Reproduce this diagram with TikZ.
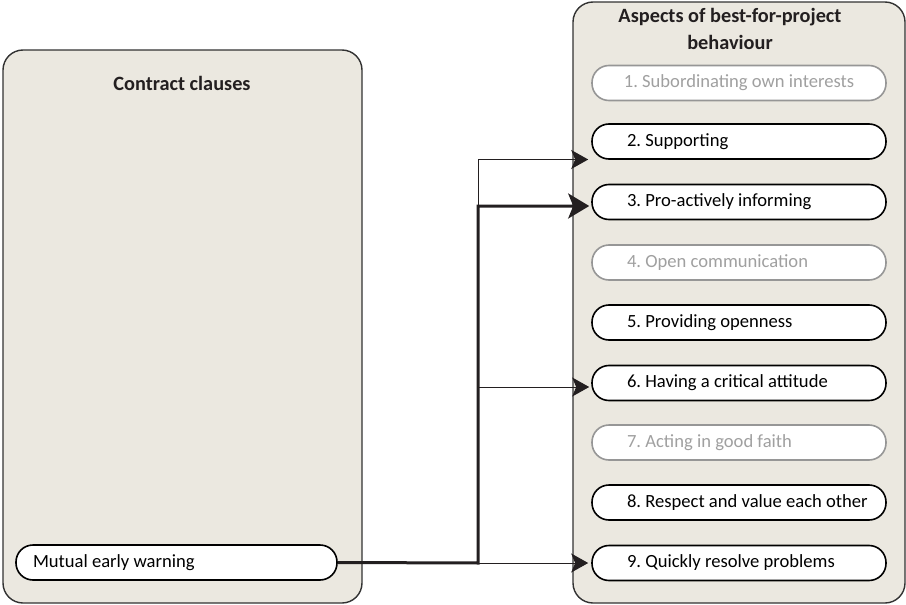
\documentclass[tikz,border=0pt]{standalone}
\usepackage{fontspec}
\setmainfont{Carlito}
\usetikzlibrary{arrows.meta,calc}
\frenchspacing

\definecolor{panelfill}{RGB}{235,232,224}
\definecolor{paneledge}{RGB}{50,50,50}
\definecolor{inkdark}{RGB}{35,31,32}
\definecolor{mutedtext}{RGB}{160,160,160}
\definecolor{mutededge}{RGB}{150,150,150}

\newcommand{\pilltext}[2]{\makebox[#1][l]{#2}}

\tikzset{
  panel/.style={draw=paneledge, line width=1.4pt, fill=panelfill, rounded corners=20pt},
  pill/.style={draw=black, line width=1.6pt, fill=white, rounded corners=17pt,
    minimum height=35pt, inner ysep=0pt, text=black,
    font=\fontsize{18.6}{22}\selectfont},
  rightpill/.style={pill, inner xsep=35pt, minimum width=294pt},
  mutedpill/.style={rightpill, draw=mutededge, text=mutedtext},
  paneltitle/.style={font=\bfseries\fontsize{20.3}{27}\selectfont, text=inkdark, align=center},
  thinline/.style={draw=inkdark, line width=1pt, -{Stealth[length=17pt,width=19pt,inset=4pt]}},
  thickline/.style={draw=inkdark, line width=3pt, -{Stealth[length=21pt,width=25pt,inset=5pt]}},
  thinseg/.style={draw=inkdark, line width=1pt},
}

\begin{document}
\begin{tikzpicture}[x=1pt,y=-1pt]
  \useasboundingbox (0,0) rectangle (906,605);

  % the two panels
  \path[panel] (3,50) rectangle (362,603);
  \path[panel] (573,2) rectangle (905,603);

  \node[paneltitle] (lefttitle) at (182,83) {Contract clauses};
  \node[paneltitle] (righttitle) at (730,28.5) {Aspects of best-for-project\\behaviour};

  % contract clause
  \node[pill, inner xsep=17pt] (m) at (176.5,562.5)
    {\pilltext{287pt}{Mutual early warning}};

  % aspects of behaviour
  \node[mutedpill, inner xsep=0pt] (a1) at (739,83) {\makebox[294pt][c]{1. Subordinating own interests}};
  \node[rightpill] (a2) at (739,141.5) {\pilltext{224pt}{2. Supporting}};
  \node[rightpill] (a3) at (739,202) {\pilltext{224pt}{3. Pro-actively informing}};
  \node[mutedpill] (a4) at (739,262.5) {\pilltext{224pt}{4. Open communication}};
  \node[rightpill] (a5) at (739,322.5) {\pilltext{224pt}{5. Providing openness}};
  \node[rightpill] (a6) at (739,383) {\pilltext{224pt}{6. Having a critical attitude}};
  \node[mutedpill] (a7) at (739,442.5) {\pilltext{224pt}{7. Acting in good faith}};
  \node[rightpill] (a8) at (739,502.5) {\pilltext{224pt}{8. Respect and value each other}};
  \node[rightpill] (a9) at (739,563) {\pilltext{224pt}{9. Quickly resolve problems}};

  % arrow ends, just short of the pills
  \coordinate (t2) at ([xshift=-3pt,yshift=-18pt]a2.west);
  \coordinate (t3) at ([xshift=-2pt,yshift=-4pt]a3.west);
  \coordinate (t6) at ([xshift=-2pt,yshift=-4pt]a6.west);
  \coordinate (t9) at ([xshift=-3pt]a9.west);
  \coordinate (j) at (478,563);

  % connectors
  \draw[thinseg] (j |- t3) -- (j |- t2);
  \draw[thinline] (j |- t2) -- (t2);
  \draw[thinline] (j |- t6) -- (t6);
  \draw[thinline] (j) -- (t9);
  \draw[thickline] (m.east) -- (j) |- (t3);
\end{tikzpicture}
\end{document}
